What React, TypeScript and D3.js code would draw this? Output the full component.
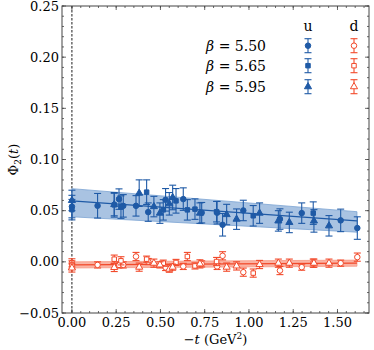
import React from "react";
import * as d3 from "d3";

// beta = 5.50 (circles)
const t550 = [0, 0.145, 0.266, 0.29, 0.362, 0.431, 0.529, 0.629, 0.733, 0.82, 0.851, 0.968, 1.175, 1.298, 1.518, 1.612];
const u550 = [0.054, 0.0548, 0.0613, 0.0547, 0.0547, 0.0486, 0.0606, 0.0613, 0.048, 0.048, 0.0362, 0.0502, 0.0418, 0.0476, 0.0405, 0.033];
const uErr550 = [0.011, 0.012, 0.010, 0.011, 0.010, 0.009, 0.011, 0.011, 0.010, 0.011, 0.011, 0.010, 0.010, 0.010, 0.011, 0.011];
const d550 = [-0.001, -0.003, -0.003, -0.003, 0.0052, 0.0003, -0.0055, -0.0045, -0.002, -0.0045, 0.0059, -0.0101, -0.0085, -0.0052, -0.0013, 0.0046];
const dErr550 = [0.004, 0.003, 0.003, 0.003, 0.004, 0.003, 0.003, 0.003, 0.003, 0.003, 0.004, 0.004, 0.004, 0.003, 0.003, 0.004];

// beta = 5.65 (squares)
const t565 = [0, 0.239, 0.277, 0.422, 0.516, 0.588, 0.652, 0.695, 0.817, 1.024, 1.363];
const u565 = [0.051, 0.0557, 0.0535, 0.0681, 0.0508, 0.0596, 0.0508, 0.0515, 0.049, 0.045, 0.0476];
const uErr565 = [0.010, 0.012, 0.011, 0.012, 0.010, 0.012, 0.010, 0.010, 0.010, 0.010, 0.011];
const d565 = [-0.003, 0.0026, 0.001, 0.0026, -0.0013, -0.0006, 0.0052, -0.004, 0.0003, -0.011, -0.0013];
const dErr565 = [0.004, 0.004, 0.004, 0.003, 0.003, 0.003, 0.004, 0.003, 0.004, 0.004, 0.004];

// beta = 5.95 (triangles)
const t595 = [0, 0.239, 0.38, 0.463, 0.497, 0.55, 0.569, 0.723, 0.874, 0.93, 1.06, 1.166, 1.228, 1.367, 1.452];
const u595 = [0.060, 0.056, 0.0671, 0.054, 0.0476, 0.0567, 0.0629, 0.0476, 0.0462, 0.0417, 0.0476, 0.040, 0.0385, 0.040, 0.0352];
const uErr595 = [0.010, 0.011, 0.013, 0.010, 0.010, 0.011, 0.012, 0.010, 0.010, 0.010, 0.010, 0.010, 0.010, 0.011, 0.010];
const d595 = [-0.006, -0.0055, -0.0052, -0.0013, -0.003, -0.0072, -0.0052, -0.002, -0.0052, -0.004, -0.0026, -0.0013, -0.0013, -0.0013, -0.0013];
const dErr595 = [0.004, 0.004, 0.004, 0.004, 0.003, 0.003, 0.003, 0.004, 0.004, 0.004, 0.004, 0.004, 0.004, 0.004, 0.004];

// fit bands
const fitT = [0, 1.61];
const uFitMid = [0.0595, 0.040];
const uFitLo = [0.044, 0.029];
const uFitHi = [0.0715, 0.049];
const dFitMid = [-0.003, -0.0013];
const dFitLo = [-0.006, -0.0043];
const dFitHi = [0.0, 0.0017];

const xTicks = [0, 0.25, 0.5, 0.75, 1.0, 1.25, 1.5];
const yTicks = [-0.05, 0, 0.05, 0.1, 0.15, 0.2, 0.25];
const betaLabels = ["5.50", "5.65", "5.95"];

const BLUE = "#1f5aa6";
const RED = "#f2492a";
const FONT = "DejaVu Serif";

const W = 374, H = 350;
const L = 62, R = 369, T = 6, B = 313;

export default function App() {
  const x = d3.scaleLinear().domain([-0.056, 1.678]).range([L, R]);
  const y = d3.scaleLinear().domain([-0.05, 0.25]).range([B, T]);

  const mkBand = (lo: number[], hi: number[]) =>
    d3.area<number>()
      .x((_, i) => x(fitT[i]))
      .y0((_, i) => y(lo[i]))
      .y1((_, i) => y(hi[i]))(fitT);
  const mkLine = (mid: number[]) =>
    d3.line<number>().x((_, i) => x(fitT[i])).y((_, i) => y(mid[i]))(fitT);

  const sym = (kind: number) => {
    const s = [d3.symbolCircle, d3.symbolSquare, d3.symbolTriangle][kind];
    const size = [24, 20, 22][kind];
    return d3.symbol().type(s).size(size)() as string;
  };

  const marker = (kind: number, cx: number, cy: number, color: string, filled: boolean, key: string) => (
    <path key={key} d={sym(kind)} transform={`translate(${cx},${cy})`}
      fill={filled ? color : "white"} stroke={color} strokeWidth={1} />
  );

  const errPoint = (kind: number, t: number, v: number, e: number, color: string, filled: boolean, key: string) => {
    const cx = x(t), cy = y(v), y0 = y(v - e), y1 = y(v + e);
    return (
      <g key={key}>
        <line x1={cx} x2={cx} y1={y0} y2={y1} stroke={color} strokeWidth={1.1} />
        <line x1={cx - 3.5} x2={cx + 3.5} y1={y0} y2={y0} stroke={color} strokeWidth={1.1} />
        <line x1={cx - 3.5} x2={cx + 3.5} y1={y1} y2={y1} stroke={color} strokeWidth={1.1} />
        {marker(kind, cx, cy, color, filled, key + "m")}
      </g>
    );
  };

  const sets = [
    { t: t550, u: u550, ue: uErr550, d: d550, de: dErr550 },
    { t: t565, u: u565, ue: uErr565, d: d565, de: dErr565 },
    { t: t595, u: u595, ue: uErr595, d: d595, de: dErr595 },
  ];

  const xMinor = d3.range(0, 34).map(i => i * 0.05).filter(v => x(v) <= R);
  const yMinor = d3.range(-5, 26).map(i => i * 0.01);

  const legX = 266, legU = 308, legD = 354;
  const legY = [45.7, 65.7, 86.7];

  return (
    <svg width={W} height={H} style={{ position: "absolute", left: 0, top: 0, background: "white" }}
      fontFamily={FONT}>
      <defs>
        <clipPath id="clip"><rect x={L} y={T} width={R - L} height={B - T} /></clipPath>
      </defs>
      <g clipPath="url(#clip)">
        <line x1={x(0)} x2={x(0)} y1={T} y2={B} stroke="black" strokeWidth={0.9} strokeDasharray="2.5,1.5" />
        <path d={mkBand(uFitLo, uFitHi) as string} fill="#7ba3d3" fillOpacity={0.65} stroke="#7ba3d3" strokeWidth={0.8} />
        <path d={mkLine(uFitMid) as string} fill="none" stroke={BLUE} strokeWidth={1.2} />
        <path d={mkBand(dFitLo, dFitHi) as string} fill="#f89a86" fillOpacity={0.75} stroke="#f89a86" strokeWidth={0.8} />
        <path d={mkLine(dFitMid) as string} fill="none" stroke={RED} strokeWidth={1.2} />
        {sets.map((s, k) => s.t.map((t, i) => errPoint(k, t, s.d[i], s.de[i], RED, false, `d${k}-${i}`)))}
        {sets.map((s, k) => s.t.map((t, i) => errPoint(k, t, s.u[i], s.ue[i], BLUE, true, `u${k}-${i}`)))}
      </g>
      <rect x={L} y={T} width={R - L} height={B - T} fill="none" stroke="#444" strokeWidth={1} />
      {xMinor.map((v, i) => (
        <g key={"xm" + i}>
          <line x1={x(v)} x2={x(v)} y1={B} y2={B - 2} stroke="#444" strokeWidth={0.8} />
          <line x1={x(v)} x2={x(v)} y1={T} y2={T + 2} stroke="#444" strokeWidth={0.8} />
        </g>
      ))}
      {xTicks.map((v, i) => (
        <g key={"xt" + i}>
          <line x1={x(v)} x2={x(v)} y1={B} y2={B - 4} stroke="#444" strokeWidth={0.8} />
          <line x1={x(v)} x2={x(v)} y1={T} y2={T + 4} stroke="#444" strokeWidth={0.8} />
          <text x={x(v)} y={327} textAnchor="middle" fontSize={13} fill="black">{v.toFixed(2)}</text>
        </g>
      ))}
      {yMinor.map((v, i) => (
        <g key={"ym" + i}>
          <line x1={L} x2={L + 2} y1={y(v)} y2={y(v)} stroke="#444" strokeWidth={0.8} />
          <line x1={R} x2={R - 2} y1={y(v)} y2={y(v)} stroke="#444" strokeWidth={0.8} />
        </g>
      ))}
      {yTicks.map((v, i) => (
        <g key={"yt" + i}>
          <line x1={L} x2={L + 4} y1={y(v)} y2={y(v)} stroke="#444" strokeWidth={0.8} />
          <line x1={R} x2={R - 4} y1={y(v)} y2={y(v)} stroke="#444" strokeWidth={0.8} />
          <text x={59} y={y(v) + 4.5} textAnchor="end" fontSize={13} fill="black">
            {(v < 0 ? "\u2212" : "") + Math.abs(v).toFixed(2)}
          </text>
        </g>
      ))}
      <text x={(L + R) / 2} y={344} textAnchor="middle" fontSize={13} fill="black">
        {"\u2212"}<tspan fontStyle="italic">t</tspan>{" (GeV"}<tspan fontSize={9} dy={-5}>2</tspan><tspan dy={5}>)</tspan>
      </text>
      <text transform={`translate(18,${(T + B) / 2}) rotate(-90)`} textAnchor="middle" fontSize={13} fill="black">
        {"\u03A6"}<tspan fontSize={9} dy={3}>2</tspan><tspan dy={-3}>(</tspan><tspan fontStyle="italic">t</tspan>)
      </text>
      <text x={legU} y={31} textAnchor="middle" fontSize={14} fill="black">u</text>
      <text x={legD} y={31} textAnchor="middle" fontSize={14} fill="black">d</text>
      {betaLabels.map((b, k) => (
        <g key={"leg" + k}>
          <text x={legX} y={legY[k] + 5} textAnchor="end" fontSize={14} fill="black">
            <tspan fontStyle="italic">{"\u03B2"}</tspan>{" = " + b}
          </text>
          {[{ cx: legU, c: BLUE, f: true }, { cx: legD, c: RED, f: false }].map((m, j) => (
            <g key={j}>
              <line x1={m.cx} x2={m.cx} y1={legY[k] - 7} y2={legY[k] + 7} stroke={m.c} strokeWidth={1.1} />
              <line x1={m.cx - 3.5} x2={m.cx + 3.5} y1={legY[k] - 7} y2={legY[k] - 7} stroke={m.c} strokeWidth={1.1} />
              <line x1={m.cx - 3.5} x2={m.cx + 3.5} y1={legY[k] + 7} y2={legY[k] + 7} stroke={m.c} strokeWidth={1.1} />
              {marker(k, m.cx, legY[k], m.c, m.f, "lm")}
            </g>
          ))}
        </g>
      ))}
    </svg>
  );
}
